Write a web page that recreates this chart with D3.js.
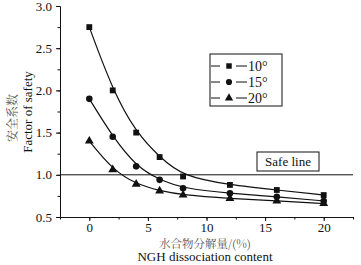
<!DOCTYPE html>
<html>
<head>
<meta charset="utf-8">
<script src="https://cdn.jsdelivr.net/npm/d3@7"></script>
<style>
  html, body { margin: 0; padding: 0; background: #fff; }
  svg { display: block; }
</style>
</head>
<body>
<div id="chart"></div>
<script>
// NGH dissociation content (%) vs factor of safety
const content = [0, 2, 4, 6, 8, 12, 16, 20];
const safety10 = [2.75, 2.0, 1.5, 1.21, 0.98, 0.88, 0.82, 0.76];
const safety15 = [1.9, 1.45, 1.1, 0.94, 0.84, 0.78, 0.74, 0.69];
const safety20 = [1.4, 1.06, 0.89, 0.81, 0.76, 0.72, 0.69, 0.66];
const seriesNames = ['10°', '15°', '20°'];
const markers = [d3.symbolSquare, d3.symbolCircle, d3.symbolTriangle];
const xTicks = [0, 5, 10, 15, 20];
const yTicks = [0.5, 1.0, 1.5, 2.0, 2.5, 3.0];
const safeValue = 1.0;

const W = 361, H = 265;
const M = { top: 6, right: 8, bottom: 48, left: 60 };
const SERIF = "'Liberation Serif', 'Times New Roman', serif";
const CJK = "'Noto Serif CJK SC', 'Noto Sans CJK SC', serif";

const svg = d3.select('#chart').append('svg')
  .attr('width', W).attr('height', H);

const x = d3.scaleLinear().domain([-2.5, 22.5]).range([M.left, W - M.right]);
const y = d3.scaleLinear().domain([0.5, 3.0]).range([H - M.bottom, M.top]);

// axes (major + minor ticks, no frame)
const xAxis = svg.append('g')
  .attr('transform', `translate(0,${y(0.5)})`)
  .call(d3.axisBottom(x).tickValues(xTicks).tickSize(4).tickPadding(2).tickSizeOuter(0).tickFormat(d3.format('d')));
xAxis.append('g')
  .call(d3.axisBottom(x).tickValues(d3.range(-2.5, 22.6, 2.5)).tickSize(2.5).tickSizeOuter(0).tickFormat(''));

const yAxis = svg.append('g')
  .attr('transform', `translate(${M.left},0)`)
  .call(d3.axisLeft(y).tickValues(yTicks).tickSize(4).tickSizeOuter(0).tickFormat(d3.format('.1f')));
yAxis.append('g')
  .call(d3.axisLeft(y).tickValues(d3.range(0.5, 3.01, 0.25)).tickSize(2.5).tickSizeOuter(0).tickFormat(''));

svg.selectAll('g').attr('font-family', null);
svg.selectAll('.domain, .tick line').attr('stroke', '#111').attr('stroke-width', 1);
xAxis.selectAll('.tick text')
  .attr('font-family', SERIF)
  .attr('font-size', 13).attr('fill', '#111');
yAxis.selectAll('.tick text')
  .attr('font-family', SERIF)
  .attr('font-size', 13).attr('fill', '#111').attr('dx', '-1');

// safe line
svg.append('line')
  .attr('x1', x(-2.5)).attr('x2', x(22.5))
  .attr('y1', y(safeValue)).attr('y2', y(safeValue))
  .attr('stroke', '#111').attr('stroke-width', 1);

svg.append('rect')
  .attr('x', 257).attr('y', 152).attr('width', 62).attr('height', 19)
  .attr('fill', '#fff').attr('stroke', '#111').attr('stroke-width', 1);
svg.append('text')
  .attr('x', 288).attr('y', 166).attr('text-anchor', 'middle')
  .attr('font-family', SERIF).attr('font-size', 13).attr('fill', '#111')
  .text('Safe line');

// series
const allSeries = [safety10, safety15, safety20];
const line = d3.line()
  .x((d, i) => x(content[i]))
  .y(d => y(d))
  .curve(d3.curveBasis);

allSeries.forEach((vals, k) => {
  svg.append('path')
    .attr('d', line(vals))
    .attr('fill', 'none')
    .attr('stroke', '#111')
    .attr('stroke-width', 1.2);
  svg.append('g').selectAll('path')
    .data(vals)
    .join('path')
    .attr('transform', (d, i) => `translate(${x(content[i])},${y(d)})`)
    .attr('d', d3.symbol().type(markers[k]).size(34))
    .attr('fill', '#111');
});

// legend
const legend = svg.append('g');
legend.append('rect')
  .attr('x', 210).attr('y', 54).attr('width', 72).attr('height', 52)
  .attr('fill', '#fff').attr('stroke', '#111').attr('stroke-width', 1);
seriesNames.forEach((name, k) => {
  const ly = 66 + k * 16;
  legend.append('line').attr('x1', 211).attr('x2', 220).attr('y1', ly).attr('y2', ly)
    .attr('stroke', '#111').attr('stroke-width', 1);
  legend.append('line').attr('x1', 236).attr('x2', 247).attr('y1', ly).attr('y2', ly)
    .attr('stroke', '#111').attr('stroke-width', 1);
  legend.append('path')
    .attr('transform', `translate(229,${ly})`)
    .attr('d', d3.symbol().type(markers[k]).size(30))
    .attr('fill', '#111');
  legend.append('text')
    .attr('x', 248).attr('y', ly + 4.5)
    .attr('font-family', SERIF).attr('font-size', 14).attr('fill', '#111')
    .text(name);
});

// axis titles
svg.append('text')
  .attr('transform', 'translate(17,118) rotate(-90)')
  .attr('text-anchor', 'middle')
  .attr('font-family', CJK).attr('font-size', 12).attr('fill', '#555')
  .text('安全系数');
svg.append('text')
  .attr('transform', 'translate(32,112) rotate(-90)')
  .attr('text-anchor', 'middle')
  .attr('font-family', SERIF).attr('font-size', 13).attr('fill', '#111')
  .text('Factor of safety');

svg.append('text')
  .attr('x', 205).attr('y', 247.5).attr('text-anchor', 'middle')
  .attr('font-family', CJK).attr('font-size', 11.5).attr('fill', '#555')
  .text('水合物分解量/(%)');
svg.append('text')
  .attr('x', 205).attr('y', 261).attr('text-anchor', 'middle')
  .attr('font-family', SERIF).attr('font-size', 13).attr('fill', '#111')
  .text('NGH dissociation content');
</script>
</body>
</html>
